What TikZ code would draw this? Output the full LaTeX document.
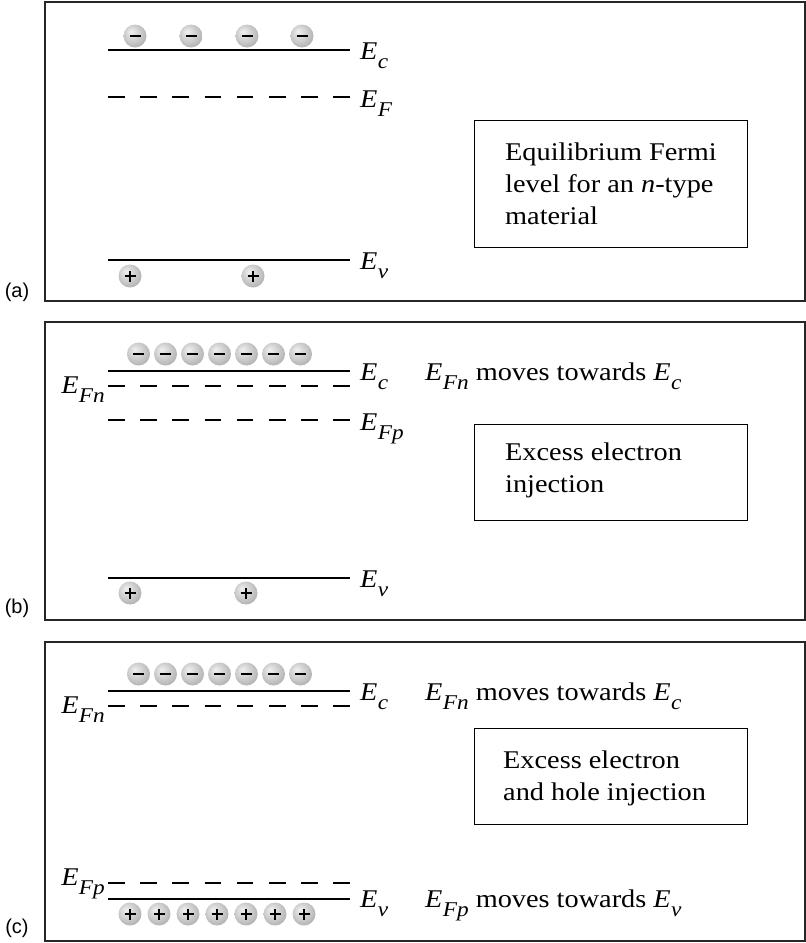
\documentclass[tikz,border=0pt]{standalone}
\usepackage{fontspec}
\setmainfont{Liberation Serif}[FakeStretch=1.11]
\newfontfamily\panelfont{Liberation Sans}
\pgfdeclareradialshading{sphere}{\pgfpoint{-9bp}{10bp}}{color(0bp)=(black!6); color(18bp)=(black!20); color(36bp)=(black!36); color(50bp)=(black!48)}
\newcommand\En[1]{\textit{E}\kern0.3pt\raisebox{-0.36em}{\fontsize{21}{21}\selectfont\textit{#1}}}
\begin{document}
\begin{tikzpicture}[x=1pt,y=-1pt,
  frame/.style={line width=1.5pt, draw=black!85},
  band/.style={line width=2pt},
  fermi/.style={line width=2pt, dash pattern=on 16.5pt off 15.7pt},
  infobox/.style={draw, line width=1pt, inner sep=0pt, anchor=north west},
  boxtext/.style={anchor=north west, inner sep=0pt, align=left, font=\fontsize{25.5}{32}\selectfont},
  lab/.style={anchor=base west, inner sep=0pt, font=\fontsize{25.5}{30}\selectfont},
  llab/.style={anchor=base east, inner sep=0pt, font=\fontsize{25.5}{30}\selectfont},
  plab/.style={anchor=center, inner sep=0pt, font=\panelfont\fontsize{20}{20}\selectfont},
  ball/.style={circle, minimum size=23pt, inner sep=0pt, shading=sphere},
  elec/.style={ball, path picture={\draw[line width=1.4pt] ([xshift=-5.5pt]path picture bounding box.center) -- ([xshift=5.5pt]path picture bounding box.center);}},
  hole/.style={ball, path picture={\draw[line width=1.4pt] ([xshift=-5.5pt]path picture bounding box.center) -- ([xshift=5.5pt]path picture bounding box.center) ([yshift=-5.5pt]path picture bounding box.center) -- ([yshift=5.5pt]path picture bounding box.center);}}
]
\useasboundingbox (0,0) rectangle (806,943);

% ---------------- panel (a)
\draw[frame] (45,2) rectangle (805,301);
\node[plab] (pa) at (17,292) {(a)};
\coordinate (ca1) at (108,50);  \coordinate (ca2) at (350,50);
\coordinate (fa1) at (108,97);  \coordinate (fa2) at (350,97);
\coordinate (va1) at (108,260); \coordinate (va2) at (350,260);
\draw[band] (ca1) -- (ca2);
\draw[fermi] (fa1) -- (fa2);
\draw[band] (va1) -- (va2);
\foreach \x [count=\i] in {135,191,247,302} \node[elec] (ea\i) at (\x,36) {};
\foreach \x [count=\i] in {130,253} \node[hole] (ha\i) at (\x,276) {};
\node[lab] (Eca) at (360,59) {\En{c}};
\node[lab] (EFa) at (360,107) {\En{F}};
\node[lab] (Eva) at (360,269) {\En{v}};
\node[infobox, minimum width=273pt, minimum height=127pt] (boxa) at (474,120) {};
\node[boxtext] (txta) at (505,142.5) {Equilibrium Fermi\\level for an \textit{n}-type\\material};

% ---------------- panel (b)
\draw[frame] (45,322) rectangle (805,620);
\node[plab] (pb) at (17,608) {(b)};
\coordinate (cb1) at (108,371);  \coordinate (cb2) at (350,371);
\coordinate (fnb1) at (108,386); \coordinate (fnb2) at (350,386);
\coordinate (fpb1) at (108,420); \coordinate (fpb2) at (350,420);
\coordinate (vb1) at (108,578);  \coordinate (vb2) at (350,578);
\draw[band] (cb1) -- (cb2);
\draw[fermi] (fnb1) -- (fnb2);
\draw[fermi] (fpb1) -- (fpb2);
\draw[band] (vb1) -- (vb2);
\foreach \i in {1,...,7} \node[elec] (eb\i) at ({138.5+27*(\i-1)},354) {};
\foreach \x [count=\i] in {130,246} \node[hole] (hb\i) at (\x,593) {};
\node[llab] (EFnb) at (105,393) {\En{Fn}};
\node[lab] (Ecb) at (360,380) {\En{c}};
\node[lab] (mvb) at (425,380) {\En{Fn} moves towards \En{c}};
\node[lab] (EFpb) at (360,430) {\En{Fp}};
\node[lab] (Evb) at (360,587) {\En{v}};
\node[infobox, minimum width=273pt, minimum height=96pt] (boxb) at (474,424) {};
\node[boxtext] (txtb) at (505,442.6) {Excess electron\\injection};

% ---------------- panel (c)
\draw[frame] (45,642) rectangle (805,941);
\node[plab] (pc) at (17,928) {(c)};
\coordinate (cc1) at (108,691);  \coordinate (cc2) at (350,691);
\coordinate (fnc1) at (108,706); \coordinate (fnc2) at (350,706);
\coordinate (fpc1) at (108,883); \coordinate (fpc2) at (350,883);
\coordinate (vc1) at (108,899);  \coordinate (vc2) at (350,899);
\draw[band] (cc1) -- (cc2);
\draw[fermi] (fnc1) -- (fnc2);
\draw[fermi] (fpc1) -- (fpc2);
\draw[band] (vc1) -- (vc2);
\foreach \i in {1,...,7} \node[elec] (ec\i) at ({138.5+27*(\i-1)},674) {};
\foreach \i in {1,...,7} \node[hole] (hc\i) at ({130+29*(\i-1)},914) {};
\node[llab] (EFnc) at (105,713) {\En{Fn}};
\node[lab] (Ecc) at (360,700) {\En{c}};
\node[lab] (mvc) at (425,700) {\En{Fn} moves towards \En{c}};
\node[infobox, minimum width=273pt, minimum height=96pt] (boxc) at (474,728) {};
\node[boxtext] (txtc) at (503,750.6) {Excess electron\\and hole injection};
\node[llab] (EFpc) at (105,885) {\En{Fp}};
\node[lab] (Evc) at (360,907) {\En{v}};
\node[lab] (mvc2) at (425,907) {\En{Fp} moves towards \En{v}};
\end{tikzpicture}
\end{document}
